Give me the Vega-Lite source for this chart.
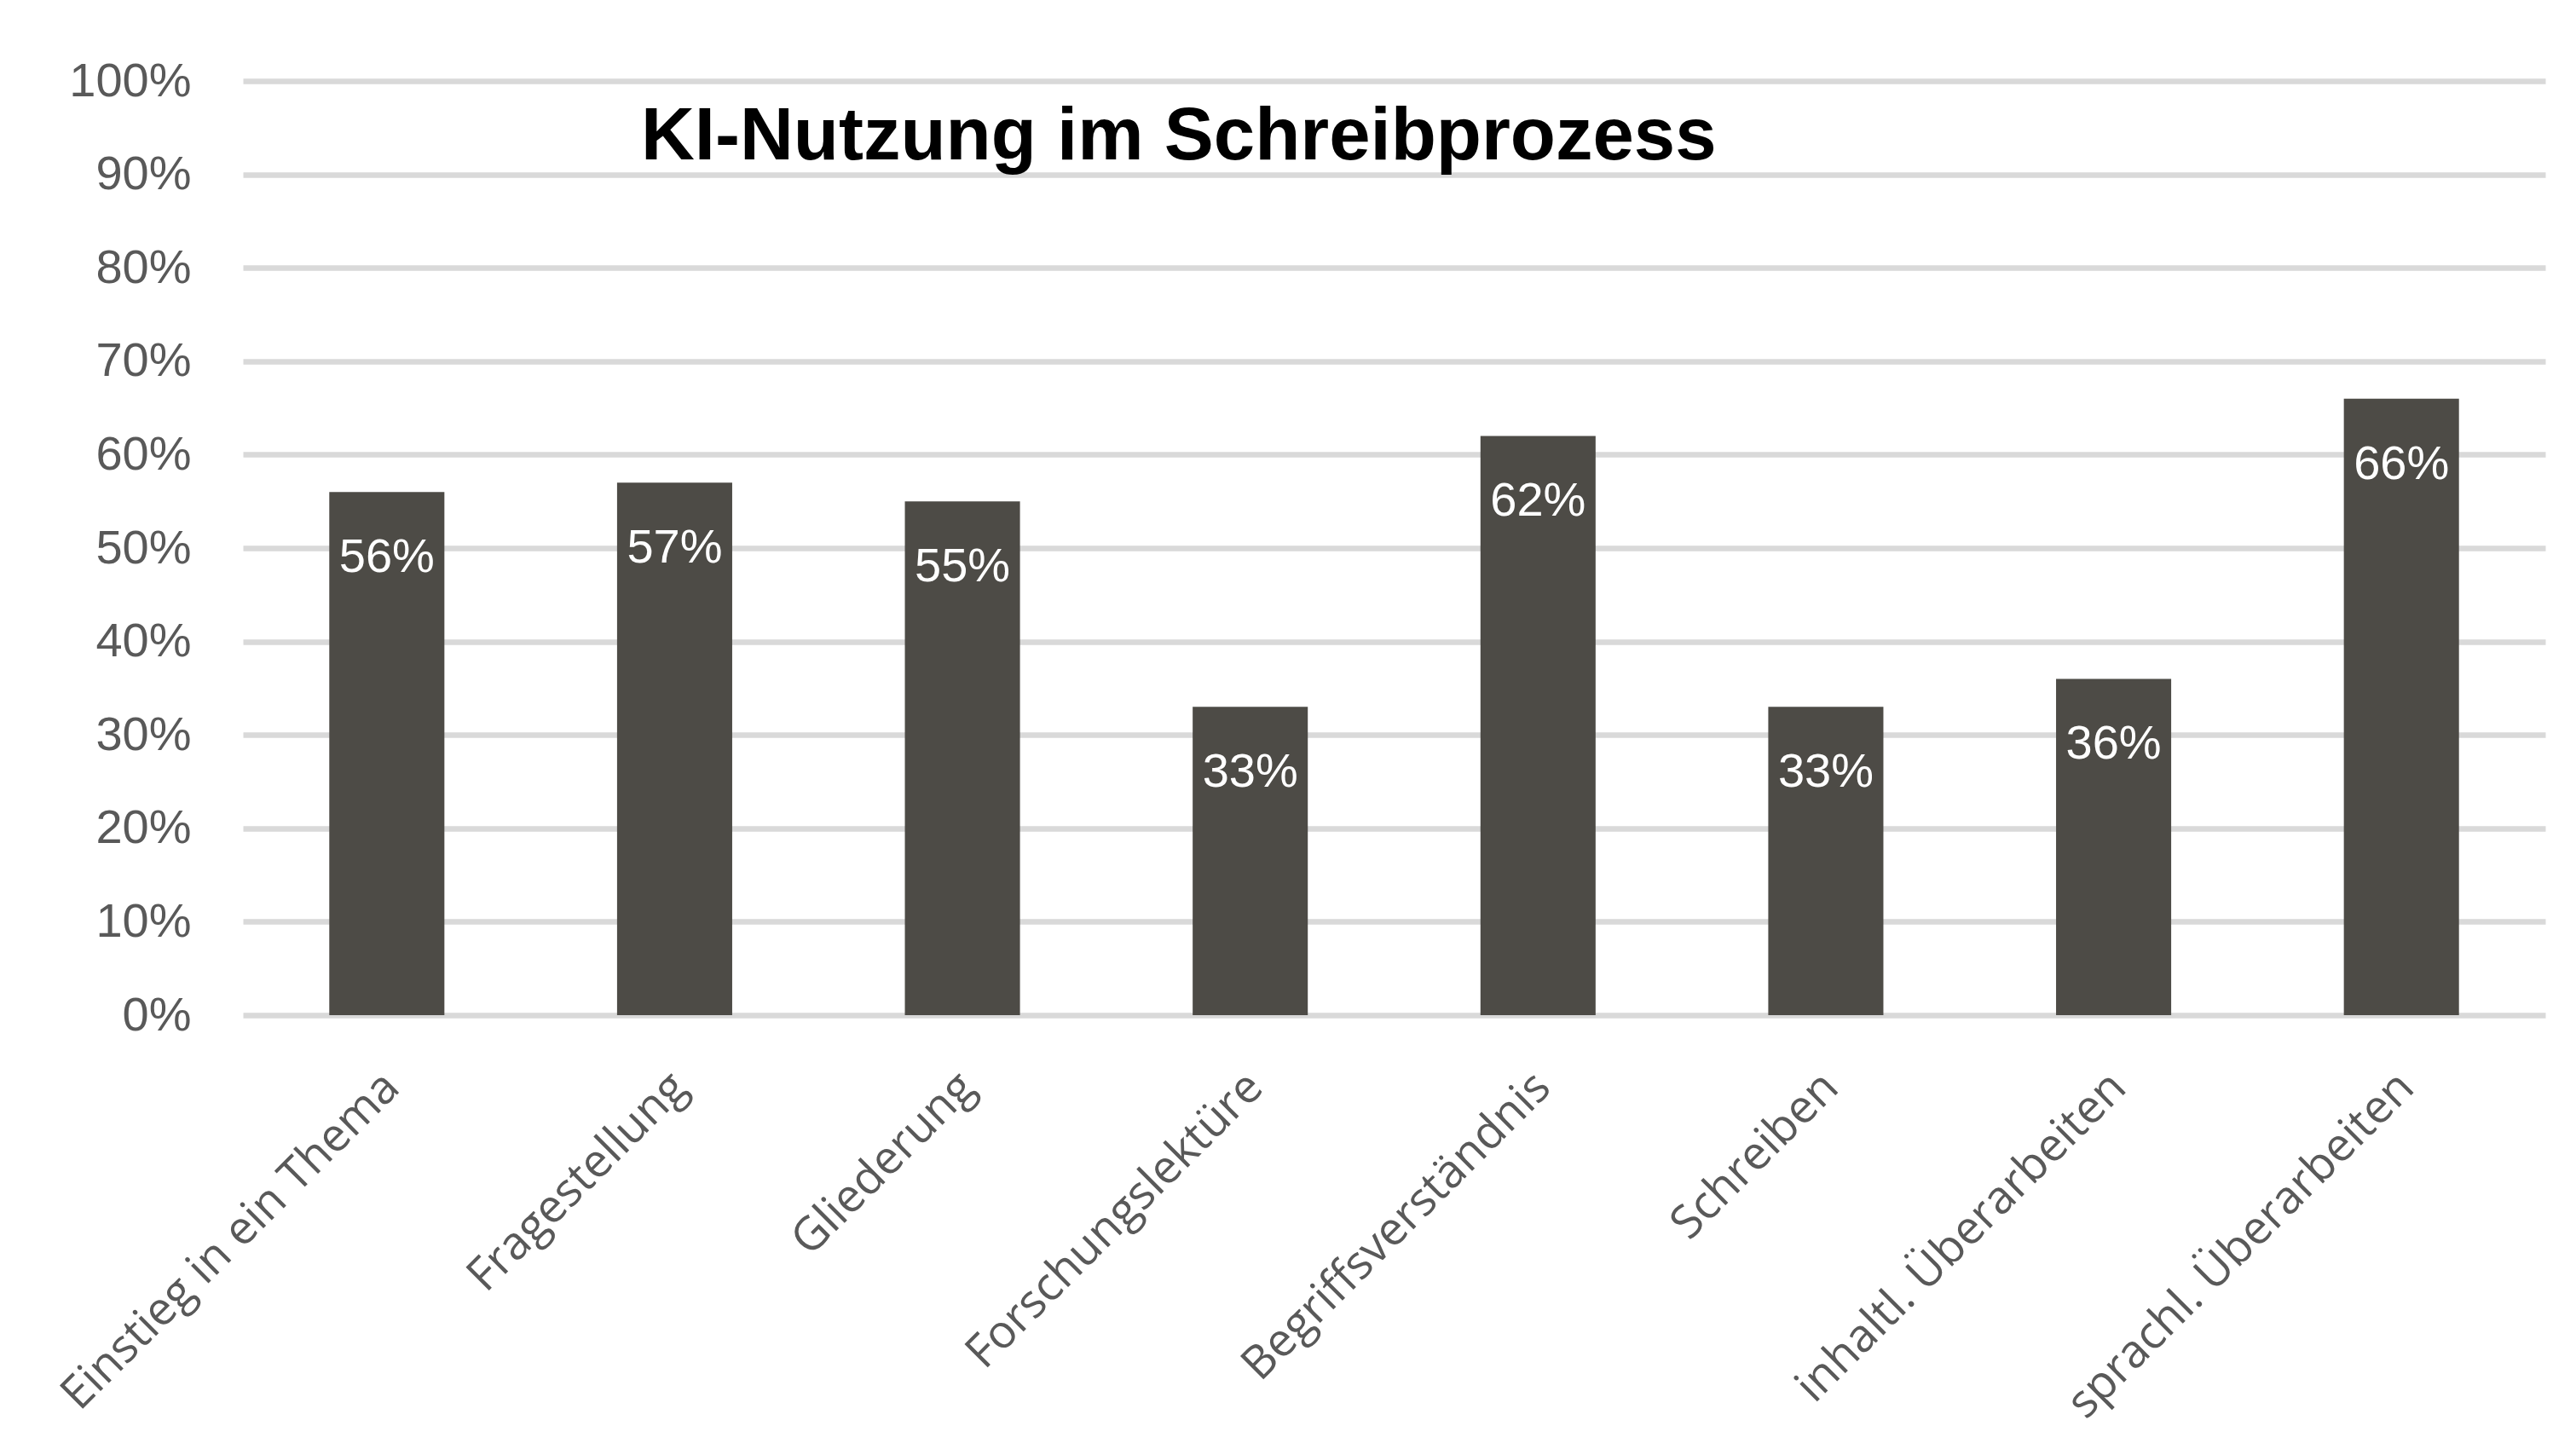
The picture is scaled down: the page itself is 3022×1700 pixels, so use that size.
{
  "$schema": "https://vega.github.io/schema/vega-lite/v6.json",
  "width": 2701,
  "height": 1096,
  "autosize": {"type": "none"},
  "padding": {"left": 285, "top": 95, "right": 36, "bottom": 509},
  "background": "white",
  "title": {
    "text": "KI-Nutzung im Schreibprozess",
    "font": "Liberation Sans",
    "fontWeight": "bold",
    "fontSize": 87,
    "color": "#000000",
    "anchor": "start",
    "frame": "group",
    "dx": 467,
    "offset": -207,
    "baseline": "alphabetic"
  },
  "data": {
    "values": [
      {"stage": "Einstieg in ein Thema", "share": 0.56},
      {"stage": "Fragestellung", "share": 0.57},
      {"stage": "Gliederung", "share": 0.55},
      {"stage": "Forschungslektüre", "share": 0.33},
      {"stage": "Begriffsverständnis", "share": 0.62},
      {"stage": "Schreiben", "share": 0.33},
      {"stage": "inhaltl. Überarbeiten", "share": 0.36},
      {"stage": "sprachl. Überarbeiten", "share": 0.66}
    ]
  },
  "config": {"view": {"stroke": null}},
  "encoding": {
    "x": {
      "field": "stage",
      "type": "nominal",
      "sort": null,
      "scale": {"paddingInner": 0.6, "paddingOuter": 0.3},
      "axis": {
        "title": null,
        "labelAngle": -45,
        "labelFont": "Open Sans",
        "labelFontSize": 54,
        "labelColor": "#595959",
        "ticks": false,
        "domain": false,
        "labelPadding": 57,
        "labelOffset": -13,
        "labelLimit": 0,
        "labelOverlap": false
      }
    },
    "y": {
      "field": "share",
      "type": "quantitative",
      "scale": {"domain": [0, 1], "nice": false},
      "axis": {
        "title": null,
        "format": ".0%",
        "values": [0, 0.1, 0.2, 0.3, 0.4, 0.5, 0.6, 0.7, 0.8, 0.9, 1],
        "labelFont": "Liberation Sans",
        "labelFontSize": 56,
        "labelColor": "#595959",
        "ticks": false,
        "domain": false,
        "labelPadding": 61,
        "gridColor": "#d9d9d9",
        "gridWidth": 6.5
      }
    }
  },
  "layer": [
    {"mark": {"type": "bar", "color": "#4d4b46"}},
    {
      "mark": {
        "type": "text",
        "color": "#ffffff",
        "fontSize": 56,
        "font": "Liberation Sans",
        "baseline": "alphabetic",
        "dy": 94
      },
      "encoding": {"text": {"field": "share", "type": "quantitative", "format": ".0%"}}
    }
  ]
}
